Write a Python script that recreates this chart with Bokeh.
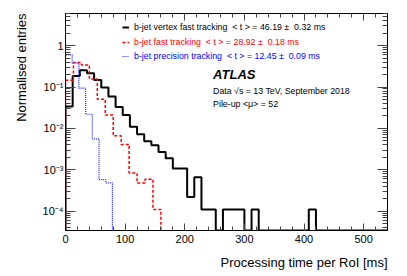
import math
from bokeh.plotting import figure
from bokeh.models import (Range1d, FixedTicker, LinearAxis, LogAxis, Label, Title,
                          Legend, LegendItem, CustomJSTickFormatter)
from bokeh.embed import file_html
from bokeh.resources import INLINE

# ---------------- data ----------------
# b-jet vertex fast tracking: 12 ms bins from 0 to 540 ms
vtx_bin_width = 12.0
vtx_values = [0.034, 0.186, 0.255, 0.216, 0.149, 0.097, 0.059, 0.033, 0.021,
              0.011, 0.0072, 0.0049, 0.0039, 0.0027, 0.0019, 0.00107, 0.00107,
              0.00022, 0.00066, 0.00011, 0.00011, 0.0, 0.00011, 0.00011,
              0.00011, 0.0, 0.00011, 0.0, 0.0, 0.0, 0.0, 0.0, 0.0, 0.0,
              0.00011, 0.0, 0.0, 0.0, 0.0, 0.0, 0.0, 0.0, 0.0, 0.0, 0.0]

# b-jet fast tracking: 13.33 ms bins
fast_bin_width = 160.0 / 12
fast_values = [0.145, 0.39, 0.34, 0.157, 0.051, 0.021, 0.0066, 0.0041,
               0.00084, 0.00048, 0.00059, 0.00011]

# b-jet precision tracking: 11.24 ms bins
prec_bin_width = 11.24
prec_values = [0.60, 0.377, 0.094, 0.022, 0.0056, 0.00058, 0.00048,
               0.0, 0.0, 0.0, 0.0, 0.0, 0.0]

legend_texts = ["b-jet vertex fast tracking  < t > = 46.19 \u00b1  0.32 ms",
                "b-jet fast tracking  < t > = 28.92 \u00b1  0.18 ms",
                "b-jet precision tracking  < t > = 12.45 \u00b1  0.09 ms"]

x_ticks = [0, 100, 200, 300, 400, 500]
y_ticks = [1e-4, 1e-3, 1e-2, 1e-1, 1.0]

X_MAX = 540
Y_MIN, Y_MAX = 3.4e-5, 6.0
FONT = "Liberation Sans"


def step_xy(width, values):
    xs, ys = [], []
    prev = Y_MIN
    for i, v in enumerate(values):
        vv = max(v, Y_MIN)
        xs += [i * width, i * width]
        ys += [prev, vv]
        prev = vv
    xs.append(len(values) * width)
    ys.append(prev)
    xs.append(len(values) * width)
    ys.append(Y_MIN)
    return xs, ys


p = figure(width=400, height=276, x_range=Range1d(0, X_MAX),
           y_range=Range1d(Y_MIN, Y_MAX), y_axis_type="log",
           output_backend="svg", toolbar_location=None,
           min_border_left=65, min_border_right=13, min_border_top=13,
           min_border_bottom=45)
p.grid.visible = False
p.outline_line_color = "black"
p.background_fill_color = "white"
p.border_fill_color = "white"

xs, ys = step_xy(vtx_bin_width, vtx_values)
r_vtx = p.line(xs, ys, line_color="black", line_width=2)
xs, ys = step_xy(fast_bin_width, fast_values)
r_fast = p.line(xs, ys, line_color="#ff0000", line_width=1.5, line_dash="3 2")
xs, ys = step_xy(prec_bin_width, prec_values)
r_prec = p.line(xs, ys, line_color="#2222ff", line_width=1.2, line_dash="1 1")

# ---------------- axes ----------------
xt = FixedTicker(ticks=x_ticks, minor_ticks=[i * 20 for i in range(28)])
yminor = [m * 10.0 ** e for e in range(-5, 1) for m in range(2, 10)
          if Y_MIN <= m * 10.0 ** e <= Y_MAX]
yt = FixedTicker(ticks=y_ticks, minor_ticks=yminor)

sup_code = """
const e = Math.round(Math.log10(tick));
if (e == 0) { return "1"; }
const sup = {"-": "\u207b", "0": "\u2070", "1": "\u00b9", "2": "\u00b2", "3": "\u00b3",
             "4": "\u2074", "5": "\u2075", "6": "\u2076", "7": "\u2077", "8": "\u2078", "9": "\u2079"};
return "10" + String(e).split("").map(c => sup[c]).join("");
"""

xa = p.xaxis[0]
xa.ticker = xt
ya = p.yaxis[0]
ya.ticker = yt
ya.formatter = CustomJSTickFormatter(code=sup_code)

for ax in (xa, ya):
    ax.major_label_text_font = FONT
    ax.major_label_text_font_size = "11px"
    ax.major_label_text_color = "black"
    ax.axis_line_color = "black"
    ax.major_tick_line_color = "#444444"
    ax.minor_tick_line_color = "#444444"
    ax.major_tick_out = 0
    ax.minor_tick_out = 0
xa.major_tick_in = 7
xa.minor_tick_in = 4
xa.major_label_standoff = 4
ya.major_tick_in = 10
ya.minor_tick_in = 5
ya.major_label_standoff = 2

empty = CustomJSTickFormatter(code="return '';")
top = LinearAxis(ticker=xt, formatter=empty, major_tick_in=7, minor_tick_in=4,
                 major_tick_out=0, minor_tick_out=0, major_label_standoff=0,
                 major_label_text_font_size="1px",
                 major_tick_line_color="#444444", minor_tick_line_color="#444444")
p.add_layout(top, "above")
right = LogAxis(ticker=yt, formatter=empty, major_tick_in=10, minor_tick_in=5,
                major_tick_out=0, minor_tick_out=0, major_label_standoff=0,
                major_label_text_font_size="1px",
                major_tick_line_color="#444444", minor_tick_line_color="#444444")
p.add_layout(right, "right")

# ---------------- axis titles ----------------
p.add_layout(Title(text="Processing time per RoI [ms]", align="right",
                   text_font=FONT, text_font_size="13px", text_font_style="normal",
                   text_color="black", standoff=14), "below")
p.add_layout(Title(text="Normalised entries", align="right",
                   text_font=FONT, text_font_size="13px", text_font_style="normal",
                   text_color="black", standoff=21), "left")

# ---------------- legends ----------------
for rend, txt, col, yb in ((r_vtx, legend_texts[0], "black", 198),
                           (r_fast, legend_texts[1], "#ff0000", 183),
                           (r_prec, legend_texts[2], "#0000ff", 169)):
    lg = Legend(items=[LegendItem(label=txt, renderers=[rend])], location=(57, yb),
                padding=0, margin=0, spacing=0, border_line_color=None,
                background_fill_alpha=0, glyph_width=7, glyph_height=10,
                label_height=10, label_standoff=5, label_text_font=FONT,
                label_text_font_size="8.8px", label_text_color=col,
                label_text_baseline="middle")
    p.add_layout(lg)

# ---------------- ATLAS texts ----------------
p.add_layout(Label(x=247.5, y=0.197, text="ATLAS", text_font=FONT,
                   text_font_style="bold italic", text_font_size="13px",
                   text_baseline="middle", text_color="black"))
p.add_layout(Label(x=247.5, y=0.0824, text="Data \u221as = 13 TeV, September 2018",
                   text_font=FONT, text_font_size="8.8px", text_baseline="middle",
                   text_color="black"))
p.add_layout(Label(x=247.5, y=0.0387, text="Pile-up <\u03bc> = 52",
                   text_font=FONT, text_font_size="8.8px", text_baseline="middle",
                   text_color="black"))

open("out.html", "w").write(file_html(p, INLINE))
